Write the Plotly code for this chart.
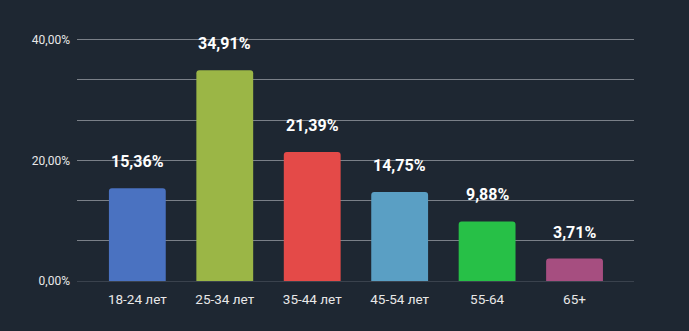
import plotly.graph_objects as go

categories = ["18-24 лет", "25-34 лет", "35-44 лет", "45-54 лет", "55-64", "65+"]
shares = [15.36, 34.91, 21.39, 14.75, 9.88, 3.71]
bar_colors = ["#4a72c1", "#9bb646", "#e44a48", "#5a9fc4", "#27c047", "#a64e80"]
y_tick_values = [0, 20, 40]
y_tick_labels = ["0,00%", "20,00%", "40,00%"]

labels = [f"{v:.2f}".replace(".", ",") + "%" for v in shares]

fig = go.Figure(
    go.Bar(
        x=categories,
        y=shares,
        marker=dict(color=bar_colors, line=dict(width=0), cornerradius=3),
        width=0.65,
        hoverinfo="x+y",
    )
)

# value labels floating above each bar
for cat, val, lab in zip(categories, shares, labels):
    fig.add_annotation(
        x=cat,
        y=val,
        text=lab,
        showarrow=False,
        yanchor="bottom",
        yshift=15,
        font=dict(family="Roboto", size=16, color="#ffffff", weight="bold"),
    )

fig.update_layout(
    width=689,
    height=331,
    margin=dict(l=77, r=55, t=36, b=50),
    paper_bgcolor="#1e2732",
    plot_bgcolor="#1e2732",
    showlegend=False,
    font=dict(family="Roboto", color="#e8e8e8"),
)

fig.update_xaxes(
    range=[-0.69, 5.68],
    showgrid=False,
    showline=False,
    zeroline=False,
    ticks="",
    ticklabelstandoff=8,
    tickfont=dict(size=13.5, color="#e8e8e8"),
)

fig.update_yaxes(
    range=[0, 40.6],
    tickvals=y_tick_values,
    ticktext=y_tick_labels,
    tickfont=dict(size=12, color="#e8e8e8"),
    showgrid=True,
    gridcolor="#7a8088",
    gridwidth=1,
    zeroline=True,
    zerolinecolor="#3a424d",
    zerolinewidth=1,
    ticklabelstandoff=6,
    minor=dict(dtick=20 / 3, showgrid=True, gridcolor="#7a8088", gridwidth=1),
)

fig.write_html("out.html")
